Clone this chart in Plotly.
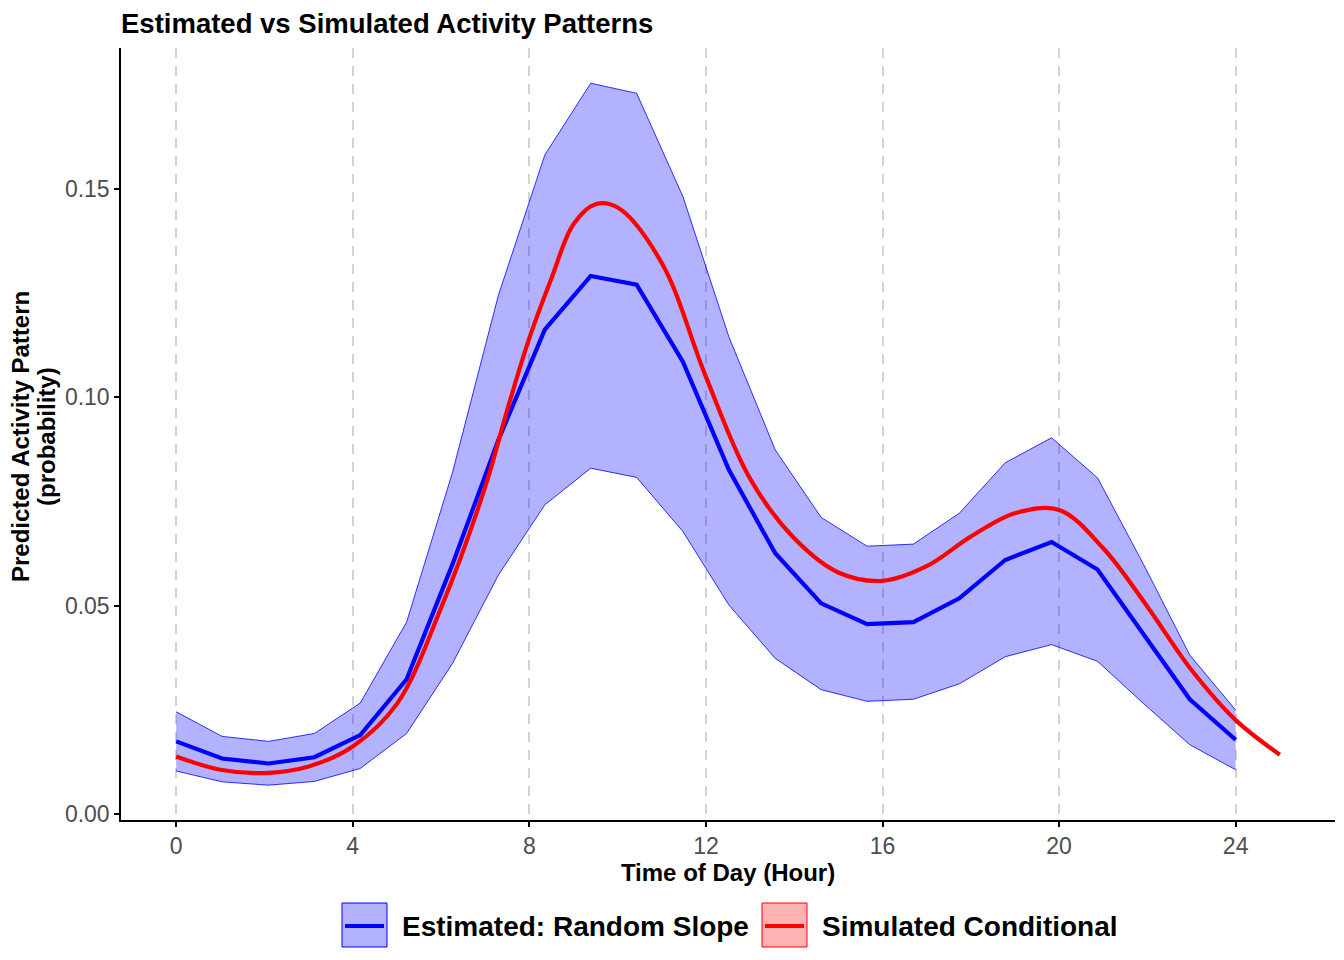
import plotly.graph_objects as go

# ---- data ----
est_hours = [0.00, 1.04, 2.09, 3.13, 4.17, 5.22, 6.26, 7.30, 8.35, 9.39, 10.43, 11.48,
             12.52, 13.57, 14.61, 15.65, 16.70, 17.74, 18.78, 19.83, 20.87, 21.91, 22.96, 24.00]
est_mean = [0.0175, 0.0134, 0.0122, 0.0137, 0.0190, 0.0324, 0.0600, 0.0898, 0.1162, 0.1291,
            0.1270, 0.1085, 0.0826, 0.0626, 0.0506, 0.0456, 0.0461, 0.0518, 0.0610, 0.0653,
            0.0587, 0.0434, 0.0276, 0.0179]
est_lower = [0.0104, 0.0078, 0.0070, 0.0079, 0.0110, 0.0194, 0.0362, 0.0574, 0.0742, 0.0830,
             0.0808, 0.0678, 0.0502, 0.0374, 0.0299, 0.0271, 0.0276, 0.0313, 0.0378, 0.0407,
             0.0367, 0.0266, 0.0167, 0.0107]
est_upper = [0.0246, 0.0187, 0.0175, 0.0194, 0.0267, 0.0461, 0.0820, 0.1245, 0.1581, 0.1753,
             0.1729, 0.1481, 0.1145, 0.0874, 0.0712, 0.0643, 0.0648, 0.0722, 0.0843, 0.0903,
             0.0807, 0.0600, 0.0382, 0.0250]

sim_hours = [0, 1, 2, 3, 4, 5, 6, 7, 7.5, 8, 8.5, 9, 9.5, 10, 11, 12, 13, 14, 15, 16,
             17, 18, 19, 20, 21, 22, 23, 24, 25]
sim_values = [0.0139, 0.0107, 0.0099, 0.0115, 0.0163, 0.0265, 0.0495, 0.0785, 0.0970, 0.1142,
              0.1285, 0.1415, 0.1463, 0.1455, 0.1322, 0.1049, 0.0805, 0.0662, 0.0580,
              0.0560, 0.0595, 0.0666, 0.0722, 0.0730, 0.0638, 0.0498, 0.0346, 0.0226, 0.0143]

x_ticks = [0, 4, 8, 12, 16, 20, 24]
y_ticks = [0.00, 0.05, 0.10, 0.15]
y_tick_labels = ["0.00", "0.05", "0.10", "0.15"]

series_names = ["Estimated: Random Slope", "Simulated Conditional"]

FONT = "Liberation Sans, Arial, sans-serif"
BLUE = "#0000FF"
RED = "#FF0000"

fig = go.Figure()

# ribbon
fig.add_trace(go.Scatter(x=est_hours, y=est_lower, mode="lines",
                         line=dict(color=BLUE, width=0.8), hoverinfo="skip",
                         showlegend=False))
fig.add_trace(go.Scatter(x=est_hours, y=est_upper, mode="lines", fill="tonexty",
                         fillcolor="rgba(0,0,255,0.3)",
                         line=dict(color=BLUE, width=0.8), hoverinfo="skip",
                         showlegend=False))
# estimated line
fig.add_trace(go.Scatter(x=est_hours, y=est_mean, mode="lines", name=series_names[0],
                         line=dict(color=BLUE, width=4.2)))
# simulated line
fig.add_trace(go.Scatter(x=sim_hours, y=sim_values, mode="lines", name=series_names[1],
                         line=dict(color=RED, width=4.2, shape="spline", smoothing=1.0)))

# The page body has an 8px default margin; the figure is sized to fit the window.
OFF = 8
W, H = 1344 - OFF, 960 - OFF
# plot panel in screen pixels
L, R, T, B = 121, 1335, 48, 820

def px(v):
    return (v - L) / (R - L)

def py(v):
    return (B - v) / (B - T)

legend_items = [
    (342, "rgba(0,0,255,0.3)", BLUE, series_names[0]),
    (762, "rgba(255,0,0,0.3)", RED, series_names[1]),
]
shapes = []
annotations = []
for x0, fill, col, name in legend_items:
    shapes.append(dict(type="rect", xref="paper", yref="paper",
                       x0=px(x0), x1=px(x0 + 45), y0=py(947), y1=py(903),
                       fillcolor=fill, line=dict(color=col, width=1)))
    shapes.append(dict(type="line", xref="paper", yref="paper",
                       x0=px(x0 + 3), x1=px(x0 + 42), y0=py(926), y1=py(926),
                       line=dict(color=col, width=4.2)))
    annotations.append(dict(text="<b>" + name + "</b>", xref="paper", yref="paper",
                            x=px(x0 + 58), y=py(926), xanchor="left", yanchor="middle",
                            showarrow=False, font=dict(family=FONT, size=28, color="black")))

# y-axis title (two rotated lines, placed like the reference)
for txt, xc in [("Predicted Activity Pattern", 20), ("(probability)", 46)]:
    annotations.append(dict(text="<b>" + txt + "</b>", xref="paper", yref="paper",
                            x=px(xc), y=py(437), xanchor="center", yanchor="middle",
                            textangle=-90, showarrow=False,
                            font=dict(family=FONT, size=24, color="black")))

fig.update_layout(
    width=W, height=H,
    margin=dict(l=L - OFF, r=W - (R - OFF), t=T - OFF, b=H - (B - OFF), autoexpand=False),
    plot_bgcolor="white", paper_bgcolor="white",
    font=dict(family=FONT),
    showlegend=False,
    shapes=shapes, annotations=annotations,
    title=dict(text="<b>Estimated vs Simulated Activity Patterns</b>",
               x=(L - OFF) / W, xanchor="left", xref="container",
               y=1 - (23 - OFF) / H, yanchor="middle", yref="container",
               font=dict(family=FONT, size=27.5, color="black")),
    xaxis=dict(range=[-1.25, 26.25], tickvals=x_ticks, ticks="outside", ticklen=5,
               tickwidth=1.5, tickcolor="black", showline=True, linecolor="black",
               linewidth=1.5, showgrid=True, gridcolor="#D3D3D3", gridwidth=1.5,
               griddash="10px,8px", zeroline=False, automargin=False,
               tickfont=dict(family=FONT, size=23, color="#4D4D4D"),
               title=dict(text="<b>Time of Day (Hour)</b>", standoff=6,
                          font=dict(family=FONT, size=24, color="black"))),
    yaxis=dict(range=[-0.00135, 0.18375], tickvals=y_ticks, ticktext=y_tick_labels,
               ticks="outside", ticklen=5, tickwidth=1.5, tickcolor="black",
               showline=True, linecolor="black", linewidth=1.5, showgrid=False,
               zeroline=False, automargin=False,
               tickfont=dict(family=FONT, size=23, color="#4D4D4D")),
)

fig.write_html("out.html")
